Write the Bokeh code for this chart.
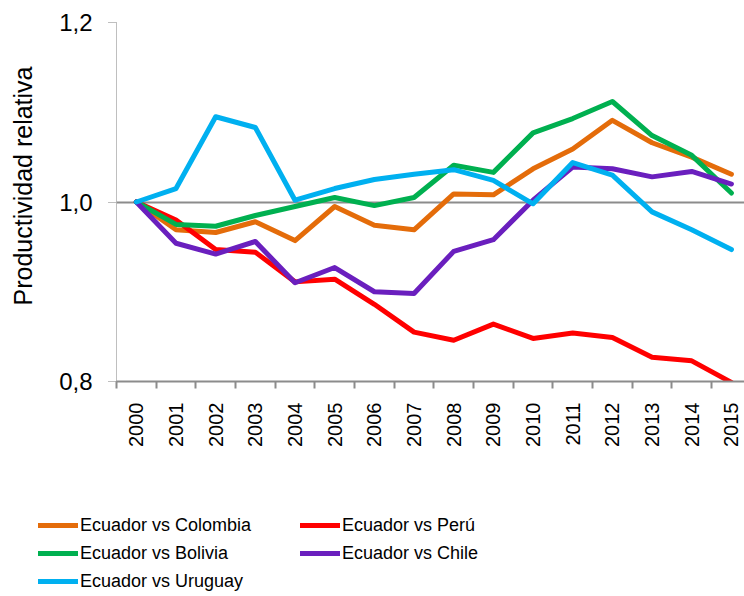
import math
from bokeh.plotting import figure
from bokeh.layouts import column
from bokeh.models import (Range1d, FixedTicker, CustomJSTickFormatter, Legend,
                          LegendItem, Title)
from bokeh.embed import file_html
from bokeh.resources import INLINE

years = ["2000", "2001", "2002", "2003", "2004", "2005", "2006", "2007",
         "2008", "2009", "2010", "2011", "2012", "2013", "2014", "2015"]

colombia = [1.000, 0.969, 0.966, 0.978, 0.957, 0.995, 0.974, 0.969,
            1.009, 1.008, 1.037, 1.059, 1.091, 1.066, 1.050, 1.031]
peru = [1.000, 0.980, 0.947, 0.944, 0.911, 0.914, 0.886, 0.855,
        0.846, 0.864, 0.848, 0.854, 0.849, 0.827, 0.823, 0.799]
bolivia = [1.000, 0.975, 0.973, 0.985, 0.995, 1.005, 0.996, 1.005,
           1.041, 1.033, 1.077, 1.093, 1.112, 1.074, 1.052, 1.010]
chile = [1.000, 0.954, 0.942, 0.956, 0.910, 0.927, 0.900, 0.898,
         0.945, 0.958, 1.002, 1.039, 1.037, 1.028, 1.034, 1.020]
uruguay = [1.000, 1.015, 1.095, 1.083, 1.002, 1.015, 1.025, 1.031,
           1.036, 1.024, 0.998, 1.044, 1.030, 0.989, 0.969, 0.947]

series_names = ["Ecuador vs Colombia", "Ecuador vs Perú", "Ecuador vs Bolivia",
                "Ecuador vs Chile", "Ecuador vs Uruguay"]
series_values = [colombia, peru, bolivia, chile, uruguay]
series_colors = ["#E46C0A", "#FF0000", "#00B050", "#6A1FBE", "#00B0F0"]

y_ticks = [0.8, 1.0, 1.2]
y_label = "Productividad relativa"

FONT = "Liberation Sans"
GRAY = "#8C8C8C"

xs = list(range(len(years)))

p = figure(frame_width=628, frame_height=359, min_border_left=116,
           min_border_right=0, min_border_top=22, min_border_bottom=79,
           x_range=Range1d(-0.5, 15.33), y_range=Range1d(0.8, 1.2),
           output_backend="svg", toolbar_location=None,
           background_fill_color="white", border_fill_color="white")
p.outline_line_color = None
p.frame_align = False

# grid
p.xgrid.visible = False
p.ygrid.ticker = FixedTicker(ticks=y_ticks)
p.ygrid.grid_line_color = GRAY
p.ygrid.grid_line_width = 2

# y axis
p.yaxis.ticker = FixedTicker(ticks=y_ticks)
p.yaxis.formatter = CustomJSTickFormatter(code="return tick.toFixed(1).replace('.', ',');")
p.yaxis.axis_line_color = "#7F7F7F"
p.yaxis.axis_line_dash = "1 1"
p.yaxis.axis_line_width = 1
p.yaxis.major_tick_line_color = "#7F7F7F"
p.yaxis.major_tick_line_dash = "1 1"
p.yaxis.major_tick_out = 8
p.yaxis.major_tick_in = 0
p.yaxis.minor_tick_line_color = None
p.yaxis.major_label_standoff = 16
p.yaxis.major_label_text_font = FONT
p.yaxis.major_label_text_font_size = "24px"
p.yaxis.major_label_text_color = "#000000"

# x axis
bounds = [i - 0.5 for i in range(len(years) + 1)]
p.xaxis.ticker = FixedTicker(ticks=xs, minor_ticks=bounds)
p.xaxis.major_label_overrides = {i: y for i, y in zip(xs, years)}
p.xaxis.major_label_orientation = math.pi / 2
p.xaxis.axis_line_color = GRAY
p.xaxis.axis_line_width = 2
p.xaxis.major_tick_line_color = None
p.xaxis.major_tick_out = 0
p.xaxis.major_tick_in = 0
p.xaxis.minor_tick_line_color = GRAY
p.xaxis.minor_tick_line_width = 2
p.xaxis.minor_tick_out = 7
p.xaxis.minor_tick_in = 0
p.xaxis.major_label_standoff = 14
p.xaxis.major_label_text_font = FONT
p.xaxis.major_label_text_font_size = "20px"
p.xaxis.major_label_text_color = "#000000"

renderers = []
for name, vals, col in zip(series_names, series_values, series_colors):
    r = p.line(xs, vals, line_color=col, line_width=5,
               line_join="round", line_cap="round")
    renderers.append(r)

# spacer between the axis and its title, then the y axis title
p.add_layout(Title(text=" ", standoff=8, text_font=FONT,
                   text_font_size="1px"), "left")
p.add_layout(Title(text=y_label, align="left", offset=76, standoff=14,
                   vertical_align="top",
                   text_font=FONT, text_font_size="25px",
                   text_font_style="normal", text_color="#000000"), "left")

# legend figure
q = figure(width=744, height=136, x_range=Range1d(0, 1), y_range=Range1d(0, 1),
           min_border=0, output_backend="svg", toolbar_location=None,
           background_fill_color="white", border_fill_color="white")
q.axis.visible = False
q.grid.visible = False
q.outline_line_color = None
q.frame_align = False

leg_r = [q.line([2, 3], [2, 3], line_color=c, line_width=5, line_cap="round")
         for c in series_colors]

def make_legend(idx, loc):
    return Legend(items=[LegendItem(label=series_names[i], renderers=[leg_r[i]]) for i in idx],
                  location=loc, orientation="vertical",
                  glyph_width=40, glyph_height=28, label_height=28,
                  label_standoff=2, spacing=0, padding=0, margin=0,
                  border_line_color=None, background_fill_alpha=0,
                  label_text_font=FONT, label_text_font_size="18px",
                  label_text_color="#000000")

q.add_layout(make_legend([0, 2, 4], (38, 1)), "center")
q.add_layout(make_legend([1, 3], (300, 29)), "center")

layout = column(p, q, spacing=0)
open("out.html", "w").write(file_html(layout, INLINE))
